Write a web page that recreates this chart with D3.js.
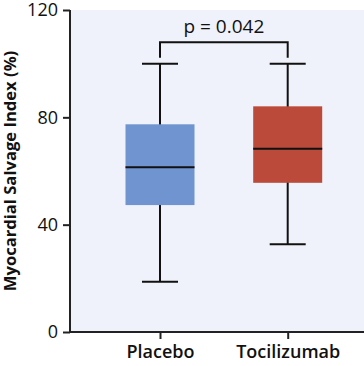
<!DOCTYPE html>
<html><head><meta charset="utf-8">
<script src="https://cdn.jsdelivr.net/npm/d3@7"></script>
<style>body{margin:0;background:#fff}svg{display:block}</style>
</head><body>
<script>
const categories = ["Placebo", "Tocilizumab"];
const whiskerLow = [18.7, 32.7];
const q1 = [47.3, 55.6];
const medians = [61.4, 68.3];
const q3 = [77.4, 84.1];
const whiskerHigh = [100, 100];
const boxColors = ["#7094cf", "#bb4a3a"];
const yTicks = [0, 40, 80, 120];
const pLabel = "p = 0.042";
const bracketValue = 108;
const yLabel = "Myocardial Salvage Index (%)";

const W = 364, H = 366;
const margin = {left: 70, top: 10, right: 0, bottom: 34};
const svg = d3.select("body").append("svg").attr("width", W).attr("height", H);
const font = "'Open Sans', sans-serif";

const y = d3.scaleLinear().domain([0, 120]).range([H - margin.bottom, margin.top]);
const x = d3.scalePoint().domain(categories).range([160, 287.7]);

svg.append("rect").attr("x", margin.left).attr("y", margin.top)
  .attr("width", W - margin.left).attr("height", y(0) - margin.top)
  .attr("fill", "#eff2fa");

const data = categories.map((c, i) => ({c, lo: whiskerLow[i], q1: q1[i], med: medians[i], q3: q3[i], hi: whiskerHigh[i], col: boxColors[i]}));
const bw = 69, cw = 36;
const g = svg.append("g");
data.forEach(d => {
  const cx = x(d.c);
  g.append("line").attr("x1", cx).attr("x2", cx).attr("y1", y(d.hi)).attr("y2", y(d.lo))
    .attr("stroke", "#111").attr("stroke-width", 2);
  [d.hi, d.lo].forEach(v => g.append("line").attr("x1", cx - cw/2).attr("x2", cx + cw/2)
    .attr("y1", y(v)).attr("y2", y(v)).attr("stroke", "#111").attr("stroke-width", 2));
  g.append("rect").attr("x", cx - bw/2).attr("width", bw).attr("y", y(d.q3))
    .attr("height", y(d.q1) - y(d.q3)).attr("fill", d.col);
  g.append("line").attr("x1", cx - bw/2).attr("x2", cx + bw/2).attr("y1", y(d.med)).attr("y2", y(d.med))
    .attr("stroke", "#111").attr("stroke-width", 2);
});

// significance bracket
const bx1 = x(categories[0]), bx2 = x(categories[1]);
svg.append("path")
  .attr("d", `M${bx1},${y(whiskerHigh[0]) - 6}V${y(bracketValue)}H${bx2}V${y(whiskerHigh[1]) - 6}`)
  .attr("fill", "none").attr("stroke", "#111").attr("stroke-width", 2);
svg.append("text").attr("x", (bx1 + bx2) / 2).attr("y", 32.5).attr("text-anchor", "middle")
  .attr("font-family", font).attr("font-size", 19).attr("font-weight", 500).attr("fill", "#111").text(pLabel);

// axes
const yAxis = svg.append("g").attr("transform", `translate(${margin.left},0)`)
  .call(d3.axisLeft(y).tickValues(yTicks).tickSize(7).tickPadding(5));
yAxis.select(".domain").attr("d", `M0,${y(120)}V${y(0)}`).attr("stroke", "#222").attr("stroke-width", 2);
yAxis.selectAll(".tick line").attr("stroke", "#222").attr("stroke-width", 2);
yAxis.selectAll(".tick text").attr("font-family", font).attr("font-size", 18).attr("font-weight", 500).attr("fill", "#111");

const xAxis = svg.append("g").attr("transform", `translate(0,${y(0)})`)
  .call(d3.axisBottom(x).tickSize(7).tickPadding(6));
xAxis.select(".domain").attr("d", `M${margin.left},0H${W}`).attr("stroke", "#222").attr("stroke-width", 2);
xAxis.selectAll(".tick line").attr("stroke", "#222").attr("stroke-width", 2);
xAxis.selectAll(".tick text").attr("font-family", font).attr("font-size", 18).attr("font-weight", 600).attr("fill", "#111");

svg.append("text").attr("transform", `translate(16,171) rotate(-90)`).attr("text-anchor", "middle")
  .attr("font-family", font).attr("font-size", 16.6).attr("font-weight", 700).attr("fill", "#111").text(yLabel);
</script>
</body></html>
